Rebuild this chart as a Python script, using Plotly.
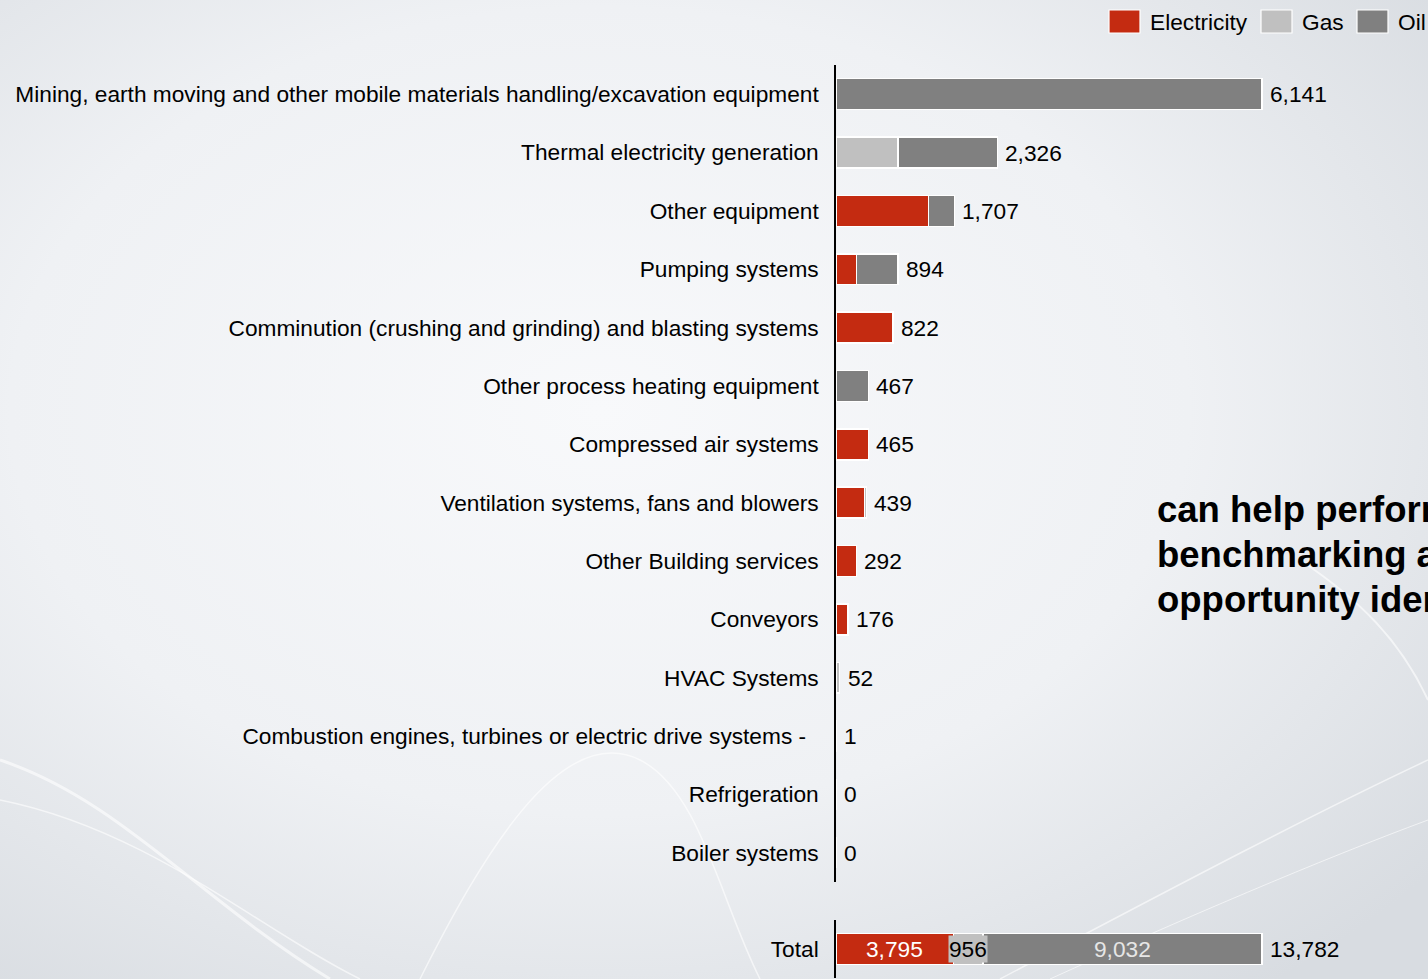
import base64
import plotly.graph_objects as go

# ---------------- data ----------------
categories = [
    "Mining, earth moving and other mobile materials handling/excavation equipment",
    "Thermal electricity generation",
    "Other equipment",
    "Pumping systems",
    "Comminution (crushing and grinding) and blasting systems",
    "Other process heating equipment",
    "Compressed air systems",
    "Ventilation systems, fans and blowers",
    "Other Building services",
    "Conveyors",
    "HVAC Systems",
    "Combustion engines, turbines or electric drive systems -\u00a0\u00a0",
    "Refrigeration",
    "Boiler systems",
]
electricity = [0, 0, 1331, 293, 822, 0, 465, 410, 292, 176, 0, 0, 0, 0]
gas = [0, 894, 0, 0, 0, 0, 0, 29, 0, 0, 52, 0, 0, 0]
oil = [6141, 1432, 376, 601, 0, 467, 0, 0, 0, 0, 0, 1, 0, 0]
totals = [6141, 2326, 1707, 894, 822, 467, 465, 439, 292, 176, 52, 1, 0, 0]

total_label = ["Total"]
total_electricity = [3795]
total_gas = [956]
total_oil = [9032]
grand_total = [13782]

series_names = ["Electricity", "Gas", "Oil"]
side_text_lines = ["can help perform", "benchmarking and", "opportunity identification"]

colors = {"Electricity": "#c42b11", "Gas": "#c0c0c0", "Oil": "#808080"}
FONT = "Liberation Sans, Arial, sans-serif"
FS = 22.7

# ---------------- background (style only) ----------------
svg = """<svg xmlns='http://www.w3.org/2000/svg' width='1428' height='979' viewBox='0 0 1428 979'>
<defs>
<radialGradient id='g' cx='0.42' cy='0.42' r='0.75'>
<stop offset='0' stop-color='#f8f9fb'/>
<stop offset='0.55' stop-color='#eff1f4'/>
<stop offset='1' stop-color='#d8dce1'/>
</radialGradient>
</defs>
<rect width='1428' height='979' fill='url(#g)'/>
<g fill='none' stroke='#ffffff' stroke-opacity='0.6'>
<path d='M0,760 C120,800 200,900 330,979' stroke-width='3'/>
<path d='M0,800 C150,830 260,930 360,979' stroke-width='1.5'/>
<path d='M420,979 C480,860 560,720 640,760 C700,790 720,900 760,979' stroke-width='1.5'/>
<path d='M1000,979 C1150,900 1300,820 1428,760' stroke-width='1.5'/>
<path d='M1050,979 C1180,920 1320,860 1428,820' stroke-width='1'/>
<path d='M1300,560 C1360,600 1400,640 1428,700' stroke-width='2'/>
</g>
</svg>"""
bg_uri = "data:image/svg+xml;base64," + base64.b64encode(svg.encode()).decode()

fig = go.Figure()

top_vals = {"Electricity": electricity, "Gas": gas, "Oil": oil}
for name in series_names:
    fig.add_trace(go.Bar(
        y=categories, x=top_vals[name], orientation="h", name=name,
        marker=dict(color=colors[name], line=dict(color="#ffffff", width=1.5)),
        xaxis="x", yaxis="y", showlegend=False, hoverinfo="skip",
    ))

tot_vals = {"Electricity": total_electricity, "Gas": total_gas, "Oil": total_oil}
for name in series_names:
    fig.add_trace(go.Bar(
        y=total_label, x=tot_vals[name], orientation="h", name=name,
        marker=dict(color=colors[name], line=dict(color="#ffffff", width=1.5)),
        xaxis="x2", yaxis="y2", showlegend=False, hoverinfo="skip",
    ))

annotations = []
for cat, t in zip(categories, totals):
    annotations.append(dict(
        x=t, y=cat, xref="x", yref="y", text=f"{t:,}", showarrow=False,
        xanchor="left", xshift=6, font=dict(family=FONT, size=FS, color="#000000"),
    ))
annotations.append(dict(
    x=grand_total[0], y=total_label[0], xref="x2", yref="y2", text=f"{grand_total[0]:,}",
    showarrow=False, xanchor="left", xshift=6, font=dict(family=FONT, size=FS, color="#000000"),
))
e, g, o = total_electricity[0], total_gas[0], total_oil[0]
annotations.append(dict(x=e / 2, y=total_label[0], xref="x2", yref="y2", text=f"{e:,}",
                        showarrow=False, font=dict(family=FONT, size=FS, color="#ffffff")))
annotations.append(dict(x=e + g / 2, y=total_label[0], xref="x2", yref="y2", text=f"{g:,}",
                        showarrow=False, bgcolor="#c0c0c0", borderpad=0,
                        font=dict(family=FONT, size=FS, color="#000000")))
annotations.append(dict(x=e + g + o / 2, y=total_label[0], xref="x2", yref="y2", text=f"{o:,}",
                        showarrow=False, font=dict(family=FONT, size=FS, color="#e6e6e6")))

# side text (cut off at the right edge, as in the reference)
for i, line in enumerate(side_text_lines):
    annotations.append(dict(
        x=1155 / 1428, y=1 - (509 + 45 * i) / 979, xref="paper", yref="paper",
        xanchor="left", yanchor="middle", align="left", showarrow=False,
        text=f"<b>{line}</b>", font=dict(family=FONT, size=36.5, color="#000000"),
    ))

# manual legend
shapes = []
legend_items = [("Electricity", 1109, 1148), ("Gas", 1261, 1300), ("Oil", 1357, 1396)]
for name, x0, tx in legend_items:
    shapes.append(dict(type="rect", xref="paper", yref="paper",
                       x0=x0 / 1428, x1=(x0 + 31) / 1428, y0=1 - 33 / 979, y1=1 - 10 / 979,
                       fillcolor=colors[name], line=dict(color="#ffffff", width=1.2), layer="above"))
    annotations.append(dict(x=tx / 1428, y=1 - 22 / 979, xref="paper", yref="paper",
                            xanchor="left", yanchor="middle", text=name, showarrow=False,
                            font=dict(family=FONT, size=FS, color="#000000")))

x0p = 836 / 1428
top_range = 592 / (426 / 6141)
bot_range = 592 / (426 / 13782)

fig.update_layout(
    width=1428, height=979,
    margin=dict(l=0, r=0, t=0, b=0),
    paper_bgcolor="#eef0f3", plot_bgcolor="rgba(0,0,0,0)",
    barmode="stack", bargap=0.47,
    font=dict(family=FONT, size=FS, color="#000000"),
    xaxis=dict(domain=[x0p, 1.0], range=[0, top_range], visible=False, fixedrange=True),
    yaxis=dict(domain=[1 - 882 / 979, 1 - 65 / 979], anchor="x",
               categoryorder="array", categoryarray=categories,
               range=[len(categories) - 0.5, -0.5],
               showline=True, linecolor="#000000", linewidth=1.5, showgrid=False,
               ticks="", ticklabelstandoff=11,
               tickfont=dict(family=FONT, size=FS, color="#000000")),
    xaxis2=dict(domain=[x0p, 1.0], range=[0, bot_range], visible=False, anchor="y2"),
    yaxis2=dict(domain=[0.0008, 1 - 920 / 979], anchor="x2",
                range=[0.5, -0.5],
                showline=True, linecolor="#000000", linewidth=1.5, showgrid=False,
                ticks="", ticklabelstandoff=11,
                tickfont=dict(family=FONT, size=FS, color="#000000")),
    annotations=annotations,
    shapes=shapes,
    images=[dict(source=bg_uri, xref="paper", yref="paper", x=0, y=1, sizex=1, sizey=1,
                 sizing="stretch", layer="below", xanchor="left", yanchor="top")],
)

fig.write_html(
    "out.html",
    config={"displayModeBar": False},
    post_script="document.body.style.margin='0';document.body.style.overflow='hidden';",
)
